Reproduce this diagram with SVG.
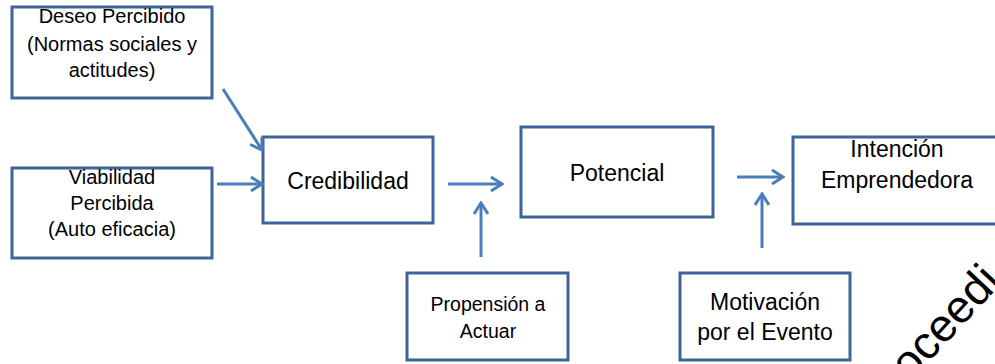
<svg xmlns="http://www.w3.org/2000/svg" width="995" height="364" viewBox="0 0 995 364">
<defs>
<style>
.box{fill:#ffffff;stroke:#3f6598;stroke-width:3}
.t{font-family:"Liberation Sans",Arial,sans-serif;fill:#000000;text-anchor:middle}
.s20{font-size:20px}
.s19{font-size:19.5px}
.s23{font-size:23px}
.c{stroke:#4a7ebb;stroke-width:3;fill:none;marker-end:url(#ah)}
</style>
<marker id="ah" viewBox="0 0 14 16" refX="12" refY="8" markerWidth="14" markerHeight="16" markerUnits="userSpaceOnUse" orient="auto">
<path d="M1,1 L12,8 L1,15" fill="none" stroke="#4a7ebb" stroke-width="3"/>
</marker>
</defs>
<rect width="995" height="364" fill="#ffffff"/>
<g id="deseo">
<rect class="box" x="12" y="7" width="200" height="91"/>
<text class="t s20" x="112" y="23">Deseo Percibido</text>
<text class="t s20" x="112" y="51">(Normas sociales y</text>
<text class="t s20" x="112" y="77">actitudes)</text>
</g>
<g id="viabilidad">
<rect class="box" x="12" y="168" width="200" height="90"/>
<text class="t s20" x="112" y="184">Viabilidad</text>
<text class="t s20" x="112" y="210">Percibida</text>
<text class="t s20" x="112" y="236">(Auto eficacia)</text>
</g>
<g id="credibilidad">
<rect class="box" x="263" y="137" width="170" height="86"/>
<text class="t s23" x="348" y="189">Credibilidad</text>
</g>
<g id="potencial">
<rect class="box" x="521" y="127" width="192" height="90"/>
<text class="t s23" x="617" y="181">Potencial</text>
</g>
<g id="intencion">
<rect class="box" x="793" y="137" width="215" height="87"/>
<text class="t s23" x="897" y="157">Intención</text>
<text class="t s23" x="897" y="188">Emprendedora</text>
</g>
<g id="propension">
<rect class="box" x="407" y="273" width="161" height="87"/>
<text class="t s19" x="488" y="311">Propensión a</text>
<text class="t s19" x="488" y="338">Actuar</text>
</g>
<g id="motivacion">
<rect class="box" x="680" y="273" width="170" height="87"/>
<text class="t s23" x="765" y="310">Motivación</text>
<text class="t s23" x="765" y="340">por el Evento</text>
</g>
<g id="connectors">
<line class="c" x1="223" y1="89" x2="262" y2="150"/>
<line class="c" x1="217" y1="184" x2="262" y2="184"/>
<line class="c" x1="448" y1="184" x2="502" y2="184"/>
<line class="c" x1="481" y1="257" x2="481" y2="203"/>
<line class="c" x1="737" y1="177" x2="783" y2="177"/>
<line class="c" x1="762" y1="248" x2="762" y2="194"/>
</g>
<text x="910" y="382" transform="rotate(-47 910 382)" style="font-family:'Liberation Sans',Arial,sans-serif;font-size:46px;fill:#000000">oceedi</text>
</svg>
